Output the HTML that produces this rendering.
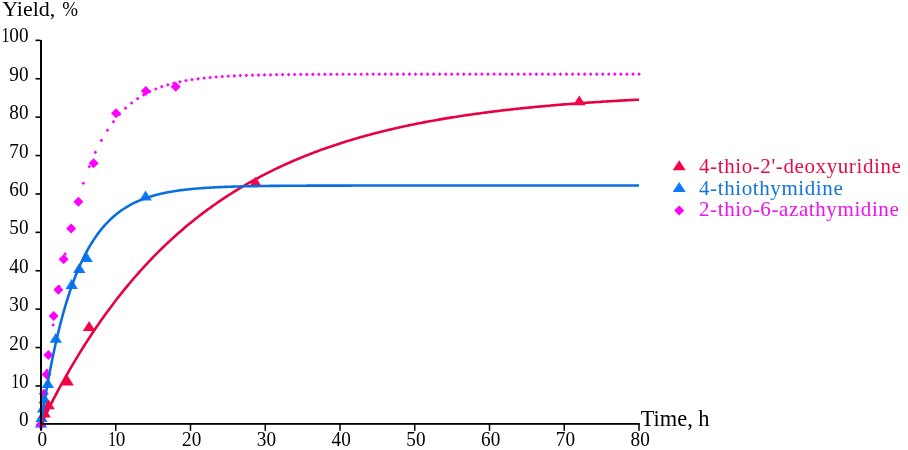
<!DOCTYPE html>
<html><head><meta charset="utf-8"><title>Yield vs Time</title>
<style>html,body{margin:0;padding:0;background:#fff;width:908px;height:450px;overflow:hidden}</style>
</head><body>
<svg width="908" height="450" viewBox="0 0 908 450" style="display:block;will-change:transform">
<rect width="908" height="450" fill="#fff"/>
<polygon points="41.00,422.15 42.85,424.00 41.00,425.85 39.15,424.00" fill="#ff00ff"/>
<polygon points="47.04,368.51 48.89,370.36 47.04,372.21 45.19,370.36" fill="#ff00ff"/>
<polygon points="53.08,323.09 54.93,324.94 53.08,326.79 51.23,324.94" fill="#ff00ff"/>
<polygon points="59.12,284.63 60.97,286.48 59.12,288.33 57.27,286.48" fill="#ff00ff"/>
<polygon points="65.16,252.08 67.01,253.93 65.16,255.78 63.31,253.93" fill="#ff00ff"/>
<polygon points="71.20,224.51 73.05,226.36 71.20,228.21 69.35,226.36" fill="#ff00ff"/>
<polygon points="77.24,201.18 79.09,203.03 77.24,204.88 75.39,203.03" fill="#ff00ff"/>
<polygon points="83.28,181.42 85.13,183.27 83.28,185.12 81.43,183.27" fill="#ff00ff"/>
<polygon points="89.32,164.69 91.17,166.54 89.32,168.39 87.47,166.54" fill="#ff00ff"/>
<polygon points="95.36,150.52 97.21,152.37 95.36,154.22 93.51,152.37" fill="#ff00ff"/>
<polygon points="101.40,138.53 103.25,140.38 101.40,142.23 99.55,140.38" fill="#ff00ff"/>
<polygon points="107.44,128.38 109.29,130.23 107.44,132.08 105.59,130.23" fill="#ff00ff"/>
<polygon points="113.48,119.78 115.33,121.63 113.48,123.48 111.63,121.63" fill="#ff00ff"/>
<polygon points="119.53,112.51 121.38,114.36 119.53,116.21 117.68,114.36" fill="#ff00ff"/>
<polygon points="125.57,106.35 127.42,108.20 125.57,110.05 123.72,108.20" fill="#ff00ff"/>
<polygon points="131.61,101.13 133.46,102.98 131.61,104.83 129.76,102.98" fill="#ff00ff"/>
<polygon points="137.65,96.71 139.50,98.56 137.65,100.41 135.80,98.56" fill="#ff00ff"/>
<polygon points="143.69,92.97 145.54,94.82 143.69,96.67 141.84,94.82" fill="#ff00ff"/>
<polygon points="149.73,89.81 151.58,91.66 149.73,93.51 147.88,91.66" fill="#ff00ff"/>
<polygon points="155.77,87.13 157.62,88.98 155.77,90.83 153.92,88.98" fill="#ff00ff"/>
<polygon points="161.81,84.86 163.66,86.71 161.81,88.56 159.96,86.71" fill="#ff00ff"/>
<polygon points="167.85,82.93 169.70,84.78 167.85,86.63 166.00,84.78" fill="#ff00ff"/>
<polygon points="173.89,81.31 175.74,83.16 173.89,85.01 172.04,83.16" fill="#ff00ff"/>
<polygon points="179.93,79.93 181.78,81.78 179.93,83.63 178.08,81.78" fill="#ff00ff"/>
<polygon points="185.97,78.76 187.82,80.61 185.97,82.46 184.12,80.61" fill="#ff00ff"/>
<polygon points="192.01,77.78 193.86,79.63 192.01,81.48 190.16,79.63" fill="#ff00ff"/>
<polygon points="198.05,76.94 199.90,78.79 198.05,80.64 196.20,78.79" fill="#ff00ff"/>
<polygon points="204.09,76.23 205.94,78.08 204.09,79.93 202.24,78.08" fill="#ff00ff"/>
<polygon points="210.13,75.63 211.98,77.48 210.13,79.33 208.28,77.48" fill="#ff00ff"/>
<polygon points="216.17,75.13 218.02,76.98 216.17,78.83 214.32,76.98" fill="#ff00ff"/>
<polygon points="222.21,74.70 224.06,76.55 222.21,78.40 220.36,76.55" fill="#ff00ff"/>
<polygon points="228.25,74.33 230.10,76.18 228.25,78.03 226.40,76.18" fill="#ff00ff"/>
<polygon points="234.29,74.03 236.14,75.88 234.29,77.73 232.44,75.88" fill="#ff00ff"/>
<polygon points="240.33,73.77 242.18,75.62 240.33,77.47 238.48,75.62" fill="#ff00ff"/>
<polygon points="246.37,73.54 248.22,75.39 246.37,77.24 244.52,75.39" fill="#ff00ff"/>
<polygon points="252.41,73.36 254.26,75.21 252.41,77.06 250.56,75.21" fill="#ff00ff"/>
<polygon points="258.45,73.20 260.30,75.05 258.45,76.90 256.60,75.05" fill="#ff00ff"/>
<polygon points="264.49,73.07 266.34,74.92 264.49,76.77 262.64,74.92" fill="#ff00ff"/>
<polygon points="270.54,72.95 272.39,74.80 270.54,76.65 268.69,74.80" fill="#ff00ff"/>
<polygon points="276.58,72.86 278.43,74.71 276.58,76.56 274.73,74.71" fill="#ff00ff"/>
<polygon points="282.62,72.77 284.47,74.62 282.62,76.47 280.77,74.62" fill="#ff00ff"/>
<polygon points="288.66,72.71 290.51,74.56 288.66,76.41 286.81,74.56" fill="#ff00ff"/>
<polygon points="294.70,72.65 296.55,74.50 294.70,76.35 292.85,74.50" fill="#ff00ff"/>
<polygon points="300.74,72.60 302.59,74.45 300.74,76.30 298.89,74.45" fill="#ff00ff"/>
<polygon points="306.78,72.56 308.63,74.41 306.78,76.26 304.93,74.41" fill="#ff00ff"/>
<polygon points="312.82,72.52 314.67,74.37 312.82,76.22 310.97,74.37" fill="#ff00ff"/>
<polygon points="318.86,72.49 320.71,74.34 318.86,76.19 317.01,74.34" fill="#ff00ff"/>
<polygon points="324.90,72.47 326.75,74.32 324.90,76.17 323.05,74.32" fill="#ff00ff"/>
<polygon points="330.94,72.44 332.79,74.29 330.94,76.14 329.09,74.29" fill="#ff00ff"/>
<polygon points="336.98,72.43 338.83,74.28 336.98,76.13 335.13,74.28" fill="#ff00ff"/>
<polygon points="343.02,72.41 344.87,74.26 343.02,76.11 341.17,74.26" fill="#ff00ff"/>
<polygon points="349.06,72.40 350.91,74.25 349.06,76.10 347.21,74.25" fill="#ff00ff"/>
<polygon points="355.10,72.39 356.95,74.24 355.10,76.09 353.25,74.24" fill="#ff00ff"/>
<polygon points="361.14,72.38 362.99,74.23 361.14,76.08 359.29,74.23" fill="#ff00ff"/>
<polygon points="367.18,72.37 369.03,74.22 367.18,76.07 365.33,74.22" fill="#ff00ff"/>
<polygon points="373.22,72.36 375.07,74.21 373.22,76.06 371.37,74.21" fill="#ff00ff"/>
<polygon points="379.26,72.36 381.11,74.21 379.26,76.06 377.41,74.21" fill="#ff00ff"/>
<polygon points="385.30,72.35 387.15,74.20 385.30,76.05 383.45,74.20" fill="#ff00ff"/>
<polygon points="391.34,72.35 393.19,74.20 391.34,76.05 389.49,74.20" fill="#ff00ff"/>
<polygon points="397.38,72.34 399.23,74.19 397.38,76.04 395.53,74.19" fill="#ff00ff"/>
<polygon points="403.42,72.34 405.27,74.19 403.42,76.04 401.57,74.19" fill="#ff00ff"/>
<polygon points="409.46,72.34 411.31,74.19 409.46,76.04 407.61,74.19" fill="#ff00ff"/>
<polygon points="415.51,72.34 417.36,74.19 415.51,76.04 413.66,74.19" fill="#ff00ff"/>
<polygon points="421.55,72.34 423.40,74.19 421.55,76.04 419.70,74.19" fill="#ff00ff"/>
<polygon points="427.59,72.33 429.44,74.18 427.59,76.03 425.74,74.18" fill="#ff00ff"/>
<polygon points="433.63,72.33 435.48,74.18 433.63,76.03 431.78,74.18" fill="#ff00ff"/>
<polygon points="439.67,72.33 441.52,74.18 439.67,76.03 437.82,74.18" fill="#ff00ff"/>
<polygon points="445.71,72.33 447.56,74.18 445.71,76.03 443.86,74.18" fill="#ff00ff"/>
<polygon points="451.75,72.33 453.60,74.18 451.75,76.03 449.90,74.18" fill="#ff00ff"/>
<polygon points="457.79,72.33 459.64,74.18 457.79,76.03 455.94,74.18" fill="#ff00ff"/>
<polygon points="463.83,72.33 465.68,74.18 463.83,76.03 461.98,74.18" fill="#ff00ff"/>
<polygon points="469.87,72.33 471.72,74.18 469.87,76.03 468.02,74.18" fill="#ff00ff"/>
<polygon points="475.91,72.33 477.76,74.18 475.91,76.03 474.06,74.18" fill="#ff00ff"/>
<polygon points="481.95,72.33 483.80,74.18 481.95,76.03 480.10,74.18" fill="#ff00ff"/>
<polygon points="487.99,72.33 489.84,74.18 487.99,76.03 486.14,74.18" fill="#ff00ff"/>
<polygon points="494.03,72.33 495.88,74.18 494.03,76.03 492.18,74.18" fill="#ff00ff"/>
<polygon points="500.07,72.33 501.92,74.18 500.07,76.03 498.22,74.18" fill="#ff00ff"/>
<polygon points="506.11,72.33 507.96,74.18 506.11,76.03 504.26,74.18" fill="#ff00ff"/>
<polygon points="512.15,72.33 514.00,74.18 512.15,76.03 510.30,74.18" fill="#ff00ff"/>
<polygon points="518.19,72.33 520.04,74.18 518.19,76.03 516.34,74.18" fill="#ff00ff"/>
<polygon points="524.23,72.33 526.08,74.18 524.23,76.03 522.38,74.18" fill="#ff00ff"/>
<polygon points="530.27,72.33 532.12,74.18 530.27,76.03 528.42,74.18" fill="#ff00ff"/>
<polygon points="536.31,72.33 538.16,74.18 536.31,76.03 534.46,74.18" fill="#ff00ff"/>
<polygon points="542.35,72.33 544.20,74.18 542.35,76.03 540.50,74.18" fill="#ff00ff"/>
<polygon points="548.39,72.33 550.24,74.18 548.39,76.03 546.54,74.18" fill="#ff00ff"/>
<polygon points="554.43,72.33 556.28,74.18 554.43,76.03 552.58,74.18" fill="#ff00ff"/>
<polygon points="560.47,72.33 562.32,74.18 560.47,76.03 558.62,74.18" fill="#ff00ff"/>
<polygon points="566.52,72.33 568.37,74.18 566.52,76.03 564.67,74.18" fill="#ff00ff"/>
<polygon points="572.56,72.33 574.41,74.18 572.56,76.03 570.71,74.18" fill="#ff00ff"/>
<polygon points="578.60,72.33 580.45,74.18 578.60,76.03 576.75,74.18" fill="#ff00ff"/>
<polygon points="584.64,72.33 586.49,74.18 584.64,76.03 582.79,74.18" fill="#ff00ff"/>
<polygon points="590.68,72.33 592.53,74.18 590.68,76.03 588.83,74.18" fill="#ff00ff"/>
<polygon points="596.72,72.33 598.57,74.18 596.72,76.03 594.87,74.18" fill="#ff00ff"/>
<polygon points="602.76,72.33 604.61,74.18 602.76,76.03 600.91,74.18" fill="#ff00ff"/>
<polygon points="608.80,72.33 610.65,74.18 608.80,76.03 606.95,74.18" fill="#ff00ff"/>
<polygon points="614.84,72.33 616.69,74.18 614.84,76.03 612.99,74.18" fill="#ff00ff"/>
<polygon points="620.88,72.33 622.73,74.18 620.88,76.03 619.03,74.18" fill="#ff00ff"/>
<polygon points="626.92,72.33 628.77,74.18 626.92,76.03 625.07,74.18" fill="#ff00ff"/>
<polygon points="632.96,72.33 634.81,74.18 632.96,76.03 631.11,74.18" fill="#ff00ff"/>
<polygon points="639.00,72.33 640.85,74.18 639.00,76.03 637.15,74.18" fill="#ff00ff"/>
<polygon points="43.80,388.70 48.80,393.70 43.80,398.70 38.80,393.70" fill="#ff00ff"/>
<polygon points="46.50,369.50 51.50,374.50 46.50,379.50 41.50,374.50" fill="#ff00ff"/>
<polygon points="48.40,349.90 53.40,354.90 48.40,359.90 43.40,354.90" fill="#ff00ff"/>
<polygon points="53.60,311.00 58.60,316.00 53.60,321.00 48.60,316.00" fill="#ff00ff"/>
<polygon points="58.40,284.80 63.40,289.80 58.40,294.80 53.40,289.80" fill="#ff00ff"/>
<polygon points="63.70,254.30 68.70,259.30 63.70,264.30 58.70,259.30" fill="#ff00ff"/>
<polygon points="71.10,223.40 76.10,228.40 71.10,233.40 66.10,228.40" fill="#ff00ff"/>
<polygon points="78.40,196.70 83.40,201.70 78.40,206.70 73.40,201.70" fill="#ff00ff"/>
<polygon points="93.60,158.30 98.60,163.30 93.60,168.30 88.60,163.30" fill="#ff00ff"/>
<polygon points="116.00,108.20 121.00,113.20 116.00,118.20 111.00,113.20" fill="#ff00ff"/>
<polygon points="145.80,86.00 150.80,91.00 145.80,96.00 140.80,91.00" fill="#ff00ff"/>
<polygon points="175.70,81.70 180.70,86.70 175.70,91.70 170.70,86.70" fill="#ff00ff"/>
<polygon points="41.00,417.80 47.20,427.60 34.80,427.60" fill="#0a7cfa"/>
<polygon points="41.00,419.40 46.20,424.60 41.00,429.80 35.80,424.60" fill="#ff00ff"/>
<polygon points="41.50,412.20 47.70,422.00 35.30,422.00" fill="#0a7cfa"/>
<polygon points="43.00,402.70 49.20,412.50 36.80,412.50" fill="#0a7cfa"/>
<polygon points="44.60,393.70 50.80,403.50 38.40,403.50" fill="#0a7cfa"/>
<polygon points="47.80,378.10 54.00,387.90 41.60,387.90" fill="#0a7cfa"/>
<polygon points="55.80,332.90 62.00,342.70 49.60,342.70" fill="#0a7cfa"/>
<polygon points="71.70,279.10 77.90,288.90 65.50,288.90" fill="#0a7cfa"/>
<polygon points="79.30,263.10 85.50,272.90 73.10,272.90" fill="#0a7cfa"/>
<polygon points="86.70,252.30 92.90,262.10 80.50,262.10" fill="#0a7cfa"/>
<polygon points="145.60,190.60 151.80,200.40 139.40,200.40" fill="#0a7cfa"/>
<polyline points="41.00,424.00 42.49,420.93 43.99,417.88 45.48,414.87 46.98,411.88 48.48,408.92 49.97,405.98 51.46,403.08 52.96,400.20 54.45,397.34 55.95,394.52 57.45,391.72 58.94,388.94 60.44,386.19 61.93,383.47 63.42,380.77 64.92,378.10 66.41,375.45 67.91,372.82 69.41,370.22 70.90,367.65 72.39,365.10 73.89,362.57 75.38,360.06 76.88,357.58 78.38,355.12 79.87,352.69 81.37,350.27 82.86,347.88 84.35,345.51 85.85,343.16 87.34,340.84 88.84,338.53 90.33,336.25 91.83,333.99 93.32,331.75 94.82,329.53 96.31,327.33 97.81,325.15 99.30,322.99 100.80,320.85 102.29,318.73 103.79,316.63 105.28,314.55 106.78,312.49 108.27,310.45 109.77,308.42 111.27,306.42 112.76,304.43 114.25,302.46 115.75,300.51 117.24,298.58 118.74,296.67 120.23,294.77 121.73,292.89 123.22,291.03 124.72,289.19 126.22,287.36 127.71,285.55 129.20,283.76 130.70,281.98 132.19,280.22 133.69,278.48 135.19,276.75 136.68,275.04 138.18,273.34 139.67,271.66 141.16,270.00 142.66,268.35 144.16,266.71 145.65,265.09 147.14,263.49 148.64,261.90 150.13,260.32 151.63,258.76 153.12,257.22 154.62,255.69 156.12,254.17 157.61,252.67 159.11,251.18 160.60,249.70 162.09,248.24 163.59,246.79 165.09,245.36 166.58,243.93 168.07,242.53 169.57,241.13 171.06,239.75 172.56,238.38 174.06,237.02 175.55,235.68 177.04,234.34 178.54,233.02 180.03,231.72 181.53,230.42 183.03,229.14 184.52,227.86 186.01,226.60 187.51,225.36 189.00,224.12 190.50,222.89 191.99,221.68 193.49,220.48 194.99,219.28 196.48,218.10 197.97,216.93 199.47,215.77 200.96,214.63 202.46,213.49 203.95,212.36 205.45,211.24 206.94,210.14 208.44,209.04 209.94,207.95 211.43,206.88 212.92,205.81 214.42,204.76 215.91,203.71 217.41,202.67 218.91,201.65 220.40,200.63 221.89,199.62 223.39,198.62 224.88,197.63 226.38,196.65 227.88,195.68 229.37,194.72 230.86,193.76 232.36,192.82 233.85,191.88 235.35,190.95 236.84,190.03 238.34,189.12 239.84,188.22 241.33,187.33 242.82,186.44 244.32,185.57 245.81,184.70 247.31,183.84 248.81,182.98 250.30,182.14 251.79,181.30 253.29,180.47 254.78,179.65 256.28,178.83 257.77,178.03 259.27,177.23 260.76,176.43 262.26,175.65 263.75,174.87 265.25,174.10 266.75,173.34 268.24,172.58 269.74,171.83 271.23,171.09 272.73,170.36 274.22,169.63 275.71,168.91 277.21,168.19 278.70,167.48 280.20,166.78 281.70,166.08 283.19,165.40 284.69,164.71 286.18,164.04 287.67,163.37 289.17,162.70 290.66,162.04 292.16,161.39 293.65,160.75 295.15,160.11 296.64,159.47 298.14,158.85 299.63,158.22 301.13,157.61 302.62,157.00 304.12,156.39 305.61,155.79 307.11,155.20 308.60,154.61 310.10,154.03 311.60,153.45 313.09,152.88 314.58,152.31 316.08,151.75 317.57,151.19 319.07,150.64 320.56,150.09 322.06,149.55 323.55,149.02 325.05,148.48 326.55,147.96 328.04,147.44 329.54,146.92 331.03,146.41 332.52,145.90 334.02,145.40 335.51,144.90 337.01,144.41 338.50,143.92 340.00,143.43 341.50,142.95 342.99,142.48 344.49,142.01 345.98,141.54 347.47,141.08 348.97,140.62 350.46,140.17 351.96,139.72 353.45,139.27 354.95,138.83 356.44,138.39 357.94,137.96 359.44,137.53 360.93,137.11 362.43,136.69 363.92,136.27 365.41,135.85 366.91,135.45 368.40,135.04 369.90,134.64 371.39,134.24 372.89,133.84 374.38,133.45 375.88,133.07 377.38,132.68 378.87,132.30 380.36,131.92 381.86,131.55 383.35,131.18 384.85,130.81 386.35,130.45 387.84,130.09 389.33,129.74 390.83,129.38 392.32,129.03 393.82,128.69 395.31,128.34 396.81,128.00 398.30,127.67 399.80,127.33 401.30,127.00 402.79,126.67 404.28,126.35 405.78,126.03 407.27,125.71 408.77,125.39 410.26,125.08 411.76,124.77 413.25,124.46 414.75,124.16 416.25,123.86 417.74,123.56 419.24,123.26 420.73,122.97 422.22,122.68 423.72,122.39 425.21,122.10 426.71,121.82 428.20,121.54 429.70,121.26 431.19,120.99 432.69,120.72 434.19,120.45 435.68,120.18 437.17,119.91 438.67,119.65 440.16,119.39 441.66,119.13 443.15,118.88 444.65,118.63 446.14,118.38 447.64,118.13 449.13,117.88 450.63,117.64 452.12,117.40 453.62,117.16 455.11,116.92 456.61,116.69 458.10,116.45 459.60,116.22 461.10,116.00 462.59,115.77 464.08,115.55 465.58,115.32 467.07,115.10 468.57,114.89 470.06,114.67 471.56,114.46 473.05,114.24 474.55,114.03 476.05,113.83 477.54,113.62 479.03,113.42 480.53,113.21 482.02,113.01 483.52,112.82 485.01,112.62 486.51,112.42 488.00,112.23 489.50,112.04 491.00,111.85 492.49,111.66 493.99,111.48 495.48,111.29 496.97,111.11 498.47,110.93 499.96,110.75 501.46,110.57 502.95,110.40 504.45,110.22 505.94,110.05 507.44,109.88 508.94,109.71 510.43,109.54 511.92,109.37 513.42,109.21 514.91,109.04 516.41,108.88 517.90,108.72 519.40,108.56 520.89,108.41 522.39,108.25 523.88,108.10 525.38,107.94 526.88,107.79 528.37,107.64 529.87,107.49 531.36,107.34 532.86,107.20 534.35,107.05 535.85,106.91 537.34,106.77 538.83,106.63 540.33,106.49 541.83,106.35 543.32,106.21 544.82,106.08 546.31,105.94 547.80,105.81 549.30,105.68 550.80,105.55 552.29,105.42 553.78,105.29 555.28,105.16 556.77,105.04 558.27,104.91 559.76,104.79 561.26,104.66 562.75,104.54 564.25,104.42 565.75,104.30 567.24,104.19 568.73,104.07 570.23,103.95 571.73,103.84 573.22,103.72 574.72,103.61 576.21,103.50 577.70,103.39 579.20,103.28 580.70,103.17 582.19,103.06 583.68,102.96 585.18,102.85 586.67,102.75 588.17,102.64 589.66,102.54 591.16,102.44 592.65,102.34 594.15,102.24 595.64,102.14 597.14,102.04 598.63,101.94 600.13,101.85 601.62,101.75 603.12,101.66 604.62,101.56 606.11,101.47 607.60,101.38 609.10,101.29 610.60,101.20 612.09,101.11 613.58,101.02 615.08,100.93 616.57,100.85 618.07,100.76 619.57,100.67 621.06,100.59 622.55,100.51 624.05,100.42 625.54,100.34 627.04,100.26 628.53,100.18 630.03,100.10 631.52,100.02 633.02,99.94 634.51,99.86 636.01,99.79 637.50,99.71 639.00,99.64" fill="none" stroke="#e8003f" stroke-width="2.6" stroke-linejoin="round"/>
<polygon points="44.70,407.70 50.90,417.50 38.50,417.50" fill="#fa0046"/>
<polygon points="48.60,399.40 54.80,409.20 42.40,409.20" fill="#fa0046"/>
<polygon points="67.60,375.60 73.80,385.40 61.40,385.40" fill="#fa0046"/>
<polygon points="89.10,321.10 95.30,330.90 82.90,330.90" fill="#fa0046"/>
<polygon points="255.50,176.80 261.70,186.60 249.30,186.60" fill="#fa0046"/>
<polygon points="579.30,95.50 585.50,105.30 573.10,105.30" fill="#fa0046"/>
<polyline points="41.00,424.00 42.49,414.19 43.99,404.79 45.48,395.77 46.98,387.12 48.48,378.83 49.97,370.88 51.46,363.26 52.96,355.95 54.45,348.94 55.95,342.22 57.45,335.77 58.94,329.59 60.44,323.67 61.93,317.99 63.42,312.54 64.92,307.32 66.41,302.31 67.91,297.50 69.41,292.90 70.90,288.48 72.39,284.25 73.89,280.19 75.38,276.30 76.88,272.56 78.38,268.98 79.87,265.55 81.37,262.26 82.86,259.10 84.35,256.08 85.85,253.18 87.34,250.40 88.84,247.73 90.33,245.17 91.83,242.72 93.32,240.36 94.82,238.11 96.31,235.95 97.81,233.87 99.30,231.89 100.80,229.98 102.29,228.15 103.79,226.40 105.28,224.72 106.78,223.11 108.27,221.56 109.77,220.08 111.27,218.66 112.76,217.30 114.25,215.99 115.75,214.74 117.24,213.54 118.74,212.38 120.23,211.28 121.73,210.22 123.22,209.21 124.72,208.23 126.22,207.30 127.71,206.40 129.20,205.55 130.70,204.72 132.19,203.93 133.69,203.18 135.19,202.45 136.68,201.76 138.18,201.09 139.67,200.45 141.16,199.84 142.66,199.25 144.16,198.68 145.65,198.14 147.14,197.62 148.64,197.13 150.13,196.65 151.63,196.19 153.12,195.75 154.62,195.33 156.12,194.93 157.61,194.54 159.11,194.17 160.60,193.82 162.09,193.48 163.59,193.15 165.09,192.84 166.58,192.54 168.07,192.25 169.57,191.97 171.06,191.71 172.56,191.46 174.06,191.21 175.55,190.98 177.04,190.75 178.54,190.54 180.03,190.33 181.53,190.14 183.03,189.95 184.52,189.77 186.01,189.59 187.51,189.43 189.00,189.27 190.50,189.11 191.99,188.96 193.49,188.82 194.99,188.69 196.48,188.56 197.97,188.43 199.47,188.32 200.96,188.20 202.46,188.09 203.95,187.99 205.45,187.89 206.94,187.79 208.44,187.70 209.94,187.61 211.43,187.52 212.92,187.44 214.42,187.36 215.91,187.29 217.41,187.22 218.91,187.15 220.40,187.08 221.89,187.02 223.39,186.96 224.88,186.90 226.38,186.84 227.88,186.79 229.37,186.74 230.86,186.69 232.36,186.64 233.85,186.59 235.35,186.55 236.84,186.51 238.34,186.47 239.84,186.43 241.33,186.39 242.82,186.36 244.32,186.32 245.81,186.29 247.31,186.26 248.81,186.23 250.30,186.20 251.79,186.18 253.29,186.15 254.78,186.12 256.28,186.10 257.77,186.08 259.27,186.05 260.76,186.03 262.26,186.01 263.75,185.99 265.25,185.97 266.75,185.96 268.24,185.94 269.74,185.92 271.23,185.91 272.73,185.89 274.22,185.88 275.71,185.86 277.21,185.85 278.70,185.84 280.20,185.82 281.70,185.81 283.19,185.80 284.69,185.79 286.18,185.78 287.67,185.77 289.17,185.76 290.66,185.75 292.16,185.74 293.65,185.73 295.15,185.73 296.64,185.72 298.14,185.71 299.63,185.70 301.13,185.70 302.62,185.69 304.12,185.68 305.61,185.68 307.11,185.67 308.60,185.67 310.10,185.66 311.60,185.66 313.09,185.65 314.58,185.65 316.08,185.64 317.57,185.64 319.07,185.63 320.56,185.63 322.06,185.62 323.55,185.62 325.05,185.62 326.55,185.61 328.04,185.61 329.54,185.61 331.03,185.60 332.52,185.60 334.02,185.60 335.51,185.60 337.01,185.59 338.50,185.59 340.00,185.59 341.50,185.59 342.99,185.59 344.49,185.58 345.98,185.58 347.47,185.58 348.97,185.58 350.46,185.58 351.96,185.57 353.45,185.57 354.95,185.57 356.44,185.57 357.94,185.57 359.44,185.57 360.93,185.57 362.43,185.56 363.92,185.56 365.41,185.56 366.91,185.56 368.40,185.56 369.90,185.56 371.39,185.56 372.89,185.56 374.38,185.56 375.88,185.56 377.38,185.55 378.87,185.55 380.36,185.55 381.86,185.55 383.35,185.55 384.85,185.55 386.35,185.55 387.84,185.55 389.33,185.55 390.83,185.55 392.32,185.55 393.82,185.55 395.31,185.55 396.81,185.55 398.30,185.55 399.80,185.55 401.30,185.55 402.79,185.55 404.28,185.54 405.78,185.54 407.27,185.54 408.77,185.54 410.26,185.54 411.76,185.54 413.25,185.54 414.75,185.54 416.25,185.54 417.74,185.54 419.24,185.54 420.73,185.54 422.22,185.54 423.72,185.54 425.21,185.54 426.71,185.54 428.20,185.54 429.70,185.54 431.19,185.54 432.69,185.54 434.19,185.54 435.68,185.54 437.17,185.54 438.67,185.54 440.16,185.54 441.66,185.54 443.15,185.54 444.65,185.54 446.14,185.54 447.64,185.54 449.13,185.54 450.63,185.54 452.12,185.54 453.62,185.54 455.11,185.54 456.61,185.54 458.10,185.54 459.60,185.54 461.10,185.54 462.59,185.54 464.08,185.54 465.58,185.54 467.07,185.54 468.57,185.54 470.06,185.54 471.56,185.54 473.05,185.54 474.55,185.54 476.05,185.54 477.54,185.54 479.03,185.54 480.53,185.54 482.02,185.54 483.52,185.54 485.01,185.54 486.51,185.54 488.00,185.54 489.50,185.54 491.00,185.54 492.49,185.54 493.99,185.54 495.48,185.54 496.97,185.54 498.47,185.54 499.96,185.54 501.46,185.54 502.95,185.54 504.45,185.54 505.94,185.54 507.44,185.54 508.94,185.54 510.43,185.54 511.92,185.54 513.42,185.54 514.91,185.54 516.41,185.54 517.90,185.54 519.40,185.54 520.89,185.54 522.39,185.54 523.88,185.54 525.38,185.54 526.88,185.54 528.37,185.54 529.87,185.54 531.36,185.54 532.86,185.54 534.35,185.54 535.85,185.54 537.34,185.54 538.83,185.54 540.33,185.54 541.83,185.54 543.32,185.54 544.82,185.54 546.31,185.54 547.80,185.54 549.30,185.54 550.80,185.54 552.29,185.54 553.78,185.54 555.28,185.54 556.77,185.54 558.27,185.54 559.76,185.54 561.26,185.54 562.75,185.54 564.25,185.54 565.75,185.54 567.24,185.54 568.73,185.54 570.23,185.54 571.73,185.54 573.22,185.54 574.72,185.54 576.21,185.54 577.70,185.54 579.20,185.54 580.70,185.54 582.19,185.54 583.68,185.54 585.18,185.54 586.67,185.54 588.17,185.54 589.66,185.54 591.16,185.54 592.65,185.54 594.15,185.54 595.64,185.54 597.14,185.54 598.63,185.54 600.13,185.54 601.62,185.54 603.12,185.54 604.62,185.54 606.11,185.54 607.60,185.54 609.10,185.54 610.60,185.54 612.09,185.54 613.58,185.54 615.08,185.54 616.57,185.54 618.07,185.54 619.57,185.54 621.06,185.54 622.55,185.54 624.05,185.54 625.54,185.54 627.04,185.54 628.53,185.54 630.03,185.54 631.52,185.54 633.02,185.54 634.51,185.54 636.01,185.54 637.50,185.54 639.00,185.54" fill="none" stroke="#0a6ee0" stroke-width="2.6" stroke-linejoin="round"/>
<rect x="40" y="40" width="2" height="390.8" fill="#000"/>
<rect x="40" y="423" width="599.8" height="1.8" fill="#000"/>
<text transform="translate(23.80,426.30) scale(0.96,1)" text-anchor="middle" font-size="20" font-family="Liberation Serif, Times New Roman, serif">0</text>
<rect x="35.5" y="385.15" width="5" height="1.6" fill="#000"/>
<text transform="translate(15.30,387.90) scale(0.8,1)" text-anchor="middle" font-size="20" font-family="Liberation Serif, Times New Roman, serif">1</text><text transform="translate(23.80,387.90) scale(0.96,1)" text-anchor="middle" font-size="20" font-family="Liberation Serif, Times New Roman, serif">0</text>
<rect x="35.5" y="346.75" width="5" height="1.6" fill="#000"/>
<text transform="translate(14.00,349.50) scale(0.96,1)" text-anchor="middle" font-size="20" font-family="Liberation Serif, Times New Roman, serif">2</text><text transform="translate(23.80,349.50) scale(0.96,1)" text-anchor="middle" font-size="20" font-family="Liberation Serif, Times New Roman, serif">0</text>
<rect x="35.5" y="308.35" width="5" height="1.6" fill="#000"/>
<text transform="translate(14.00,311.10) scale(0.96,1)" text-anchor="middle" font-size="20" font-family="Liberation Serif, Times New Roman, serif">3</text><text transform="translate(23.80,311.10) scale(0.96,1)" text-anchor="middle" font-size="20" font-family="Liberation Serif, Times New Roman, serif">0</text>
<rect x="35.5" y="269.95" width="5" height="1.6" fill="#000"/>
<text transform="translate(14.00,272.70) scale(0.96,1)" text-anchor="middle" font-size="20" font-family="Liberation Serif, Times New Roman, serif">4</text><text transform="translate(23.80,272.70) scale(0.96,1)" text-anchor="middle" font-size="20" font-family="Liberation Serif, Times New Roman, serif">0</text>
<rect x="35.5" y="231.55" width="5" height="1.6" fill="#000"/>
<text transform="translate(14.00,234.30) scale(0.96,1)" text-anchor="middle" font-size="20" font-family="Liberation Serif, Times New Roman, serif">5</text><text transform="translate(23.80,234.30) scale(0.96,1)" text-anchor="middle" font-size="20" font-family="Liberation Serif, Times New Roman, serif">0</text>
<rect x="35.5" y="193.15" width="5" height="1.6" fill="#000"/>
<text transform="translate(14.00,195.90) scale(0.96,1)" text-anchor="middle" font-size="20" font-family="Liberation Serif, Times New Roman, serif">6</text><text transform="translate(23.80,195.90) scale(0.96,1)" text-anchor="middle" font-size="20" font-family="Liberation Serif, Times New Roman, serif">0</text>
<rect x="35.5" y="154.75" width="5" height="1.6" fill="#000"/>
<text transform="translate(14.00,157.50) scale(0.96,1)" text-anchor="middle" font-size="20" font-family="Liberation Serif, Times New Roman, serif">7</text><text transform="translate(23.80,157.50) scale(0.96,1)" text-anchor="middle" font-size="20" font-family="Liberation Serif, Times New Roman, serif">0</text>
<rect x="35.5" y="116.35" width="5" height="1.6" fill="#000"/>
<text transform="translate(14.00,119.10) scale(0.96,1)" text-anchor="middle" font-size="20" font-family="Liberation Serif, Times New Roman, serif">8</text><text transform="translate(23.80,119.10) scale(0.96,1)" text-anchor="middle" font-size="20" font-family="Liberation Serif, Times New Roman, serif">0</text>
<rect x="35.5" y="77.95" width="5" height="1.6" fill="#000"/>
<text transform="translate(14.00,80.70) scale(0.96,1)" text-anchor="middle" font-size="20" font-family="Liberation Serif, Times New Roman, serif">9</text><text transform="translate(23.80,80.70) scale(0.96,1)" text-anchor="middle" font-size="20" font-family="Liberation Serif, Times New Roman, serif">0</text>
<rect x="35.5" y="39.55" width="5" height="1.6" fill="#000"/>
<text transform="translate(5.50,42.30) scale(0.8,1)" text-anchor="middle" font-size="20" font-family="Liberation Serif, Times New Roman, serif">1</text><text transform="translate(14.00,42.30) scale(0.96,1)" text-anchor="middle" font-size="20" font-family="Liberation Serif, Times New Roman, serif">0</text><text transform="translate(23.80,42.30) scale(0.96,1)" text-anchor="middle" font-size="20" font-family="Liberation Serif, Times New Roman, serif">0</text>
<rect x="115.00" y="424" width="1.5" height="6.8" fill="#000"/>
<rect x="189.75" y="424" width="1.5" height="6.8" fill="#000"/>
<rect x="264.50" y="424" width="1.5" height="6.8" fill="#000"/>
<rect x="339.25" y="424" width="1.5" height="6.8" fill="#000"/>
<rect x="414.00" y="424" width="1.5" height="6.8" fill="#000"/>
<rect x="488.75" y="424" width="1.5" height="6.8" fill="#000"/>
<rect x="563.50" y="424" width="1.5" height="6.8" fill="#000"/>
<rect x="638.25" y="424" width="1.5" height="6.8" fill="#000"/>
<text transform="translate(42.20,445.90) scale(0.96,1)" text-anchor="middle" font-size="20" font-family="Liberation Serif, Times New Roman, serif">0</text>
<text transform="translate(112.05,445.90) scale(0.8,1)" text-anchor="middle" font-size="20" font-family="Liberation Serif, Times New Roman, serif">1</text><text transform="translate(120.55,445.90) scale(0.96,1)" text-anchor="middle" font-size="20" font-family="Liberation Serif, Times New Roman, serif">0</text>
<text transform="translate(186.80,445.90) scale(0.96,1)" text-anchor="middle" font-size="20" font-family="Liberation Serif, Times New Roman, serif">2</text><text transform="translate(196.60,445.90) scale(0.96,1)" text-anchor="middle" font-size="20" font-family="Liberation Serif, Times New Roman, serif">0</text>
<text transform="translate(261.55,445.90) scale(0.96,1)" text-anchor="middle" font-size="20" font-family="Liberation Serif, Times New Roman, serif">3</text><text transform="translate(271.35,445.90) scale(0.96,1)" text-anchor="middle" font-size="20" font-family="Liberation Serif, Times New Roman, serif">0</text>
<text transform="translate(336.30,445.90) scale(0.96,1)" text-anchor="middle" font-size="20" font-family="Liberation Serif, Times New Roman, serif">4</text><text transform="translate(346.10,445.90) scale(0.96,1)" text-anchor="middle" font-size="20" font-family="Liberation Serif, Times New Roman, serif">0</text>
<text transform="translate(411.05,445.90) scale(0.96,1)" text-anchor="middle" font-size="20" font-family="Liberation Serif, Times New Roman, serif">5</text><text transform="translate(420.85,445.90) scale(0.96,1)" text-anchor="middle" font-size="20" font-family="Liberation Serif, Times New Roman, serif">0</text>
<text transform="translate(485.80,445.90) scale(0.96,1)" text-anchor="middle" font-size="20" font-family="Liberation Serif, Times New Roman, serif">6</text><text transform="translate(495.60,445.90) scale(0.96,1)" text-anchor="middle" font-size="20" font-family="Liberation Serif, Times New Roman, serif">0</text>
<text transform="translate(560.55,445.90) scale(0.96,1)" text-anchor="middle" font-size="20" font-family="Liberation Serif, Times New Roman, serif">7</text><text transform="translate(570.35,445.90) scale(0.96,1)" text-anchor="middle" font-size="20" font-family="Liberation Serif, Times New Roman, serif">0</text>
<text transform="translate(635.30,445.90) scale(0.96,1)" text-anchor="middle" font-size="20" font-family="Liberation Serif, Times New Roman, serif">8</text><text transform="translate(645.10,445.90) scale(0.96,1)" text-anchor="middle" font-size="20" font-family="Liberation Serif, Times New Roman, serif">0</text>
<text x="2.2" y="15.8" font-size="22" font-family="Liberation Serif, Times New Roman, serif">Yield,</text>
<text transform="translate(70.2,15.8) scale(0.86,1)" text-anchor="middle" font-size="22" font-family="Liberation Serif, Times New Roman, serif">%</text>
<text x="640.7" y="425.8" font-size="22.4" font-family="Liberation Serif, Times New Roman, serif">Time, h</text>
<polygon points="679.20,160.20 685.70,170.20 672.70,170.20" fill="#fa0046"/>
<polygon points="679.20,182.00 685.70,192.00 672.70,192.00" fill="#0a7cfa"/>
<polygon points="679.20,205.40 684.20,210.40 679.20,215.40 674.20,210.40" fill="#ff00ff"/>
<text x="699" y="173.2" font-size="21" letter-spacing="0.6" fill="#e60a4a" font-family="Liberation Serif, Times New Roman, serif">4-thio-2'-deoxyuridine</text>
<text x="699" y="195.2" font-size="21" letter-spacing="0.6" fill="#1274e0" font-family="Liberation Serif, Times New Roman, serif">4-thiothymidine</text>
<text x="699" y="216.3" font-size="21" letter-spacing="0.6" fill="#f010f0" font-family="Liberation Serif, Times New Roman, serif">2-thio-6-azathymidine</text>
</svg>
</body></html>
